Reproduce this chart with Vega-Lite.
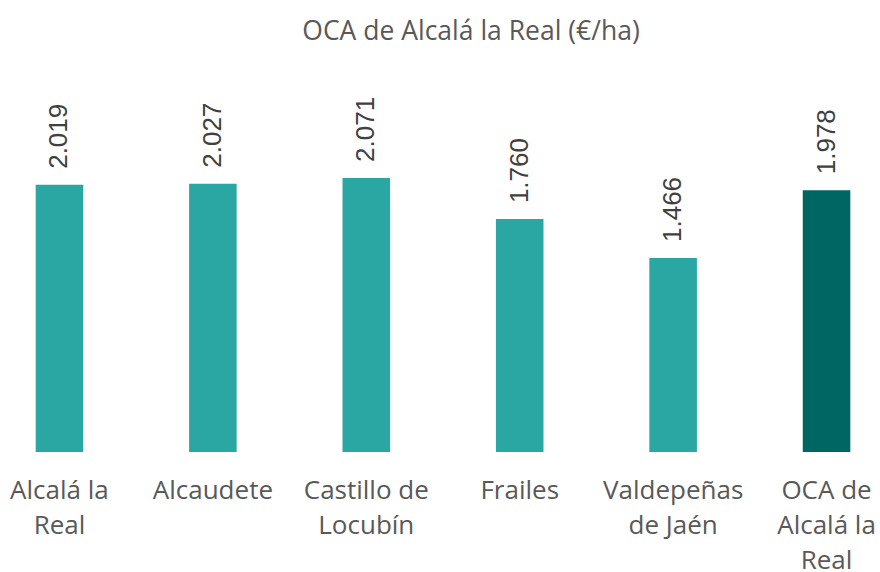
{
  "$schema": "https://vega.github.io/schema/vega-lite/v6.json",
  "autosize": {"type": "none"},
  "padding": {"left": 5, "top": 55, "right": 0, "bottom": 120},
  "width": 876,
  "height": 397,
  "title": {
    "text": "OCA de Alcalá la Real (€/ha)",
    "font": "Open Sans",
    "fontSize": 26.5,
    "fontWeight": "normal",
    "color": "#595959",
    "anchor": "middle",
    "dx": 28,
    "offset": 10
  },
  "data": {
    "values": [
      {"zona": "Alcalá la Real", "grupo": "Municipio", "valor": 2019},
      {"zona": "Alcaudete", "grupo": "Municipio", "valor": 2027},
      {"zona": "Castillo de Locubín", "grupo": "Municipio", "valor": 2071},
      {"zona": "Frailes", "grupo": "Municipio", "valor": 1760},
      {"zona": "Valdepeñas de Jaén", "grupo": "Municipio", "valor": 1466},
      {"zona": "OCA de Alcalá la Real", "grupo": "OCA", "valor": 1978}
    ]
  },
  "encoding": {
    "x": {
      "field": "zona",
      "type": "nominal",
      "sort": null,
      "scale": {"paddingInner": 0.69, "paddingOuter": 0.2},
      "axis": {
        "title": null,
        "labelAngle": 0,
        "labelFont": "Open Sans",
        "labelFontSize": 26,
        "labelColor": "#595959",
        "labelBaseline": "top",
        "labelPadding": 25,
        "labelLineHeight": 35,
        "ticks": false,
        "domain": false,
        "labelExpr": "datum.value == 'Alcalá la Real' ? ['Alcalá la', 'Real'] : datum.value == 'Castillo de Locubín' ? ['Castillo de', 'Locubín'] : datum.value == 'Valdepeñas de Jaén' ? ['Valdepeñas', 'de Jaén'] : datum.value == 'OCA de Alcalá la Real' ? ['OCA de', 'Alcalá la', 'Real'] : datum.value"
      }
    },
    "y": {
      "field": "valor",
      "type": "quantitative",
      "scale": {"domain": [0, 3000]},
      "axis": null
    }
  },
  "layer": [
    {
      "mark": {"type": "bar"},
      "encoding": {
        "color": {
          "field": "grupo",
          "type": "nominal",
          "scale": {"domain": ["Municipio", "OCA"], "range": ["#2AA6A3", "#006663"]},
          "legend": null
        }
      }
    },
    {
      "mark": {
        "type": "text",
        "angle": 270,
        "align": "left",
        "baseline": "middle",
        "dx": 16,
        "font": "Liberation Sans",
        "fontSize": 26,
        "color": "#404040"
      },
      "encoding": {
        "text": {"field": "valor", "type": "quantitative", "format": ",.0f"}
      }
    }
  ],
  "config": {
    "view": {"stroke": null},
    "locale": {
      "number": {"decimal": ",", "thousands": ".", "grouping": [3], "currency": ["", " €"]}
    }
  }
}
